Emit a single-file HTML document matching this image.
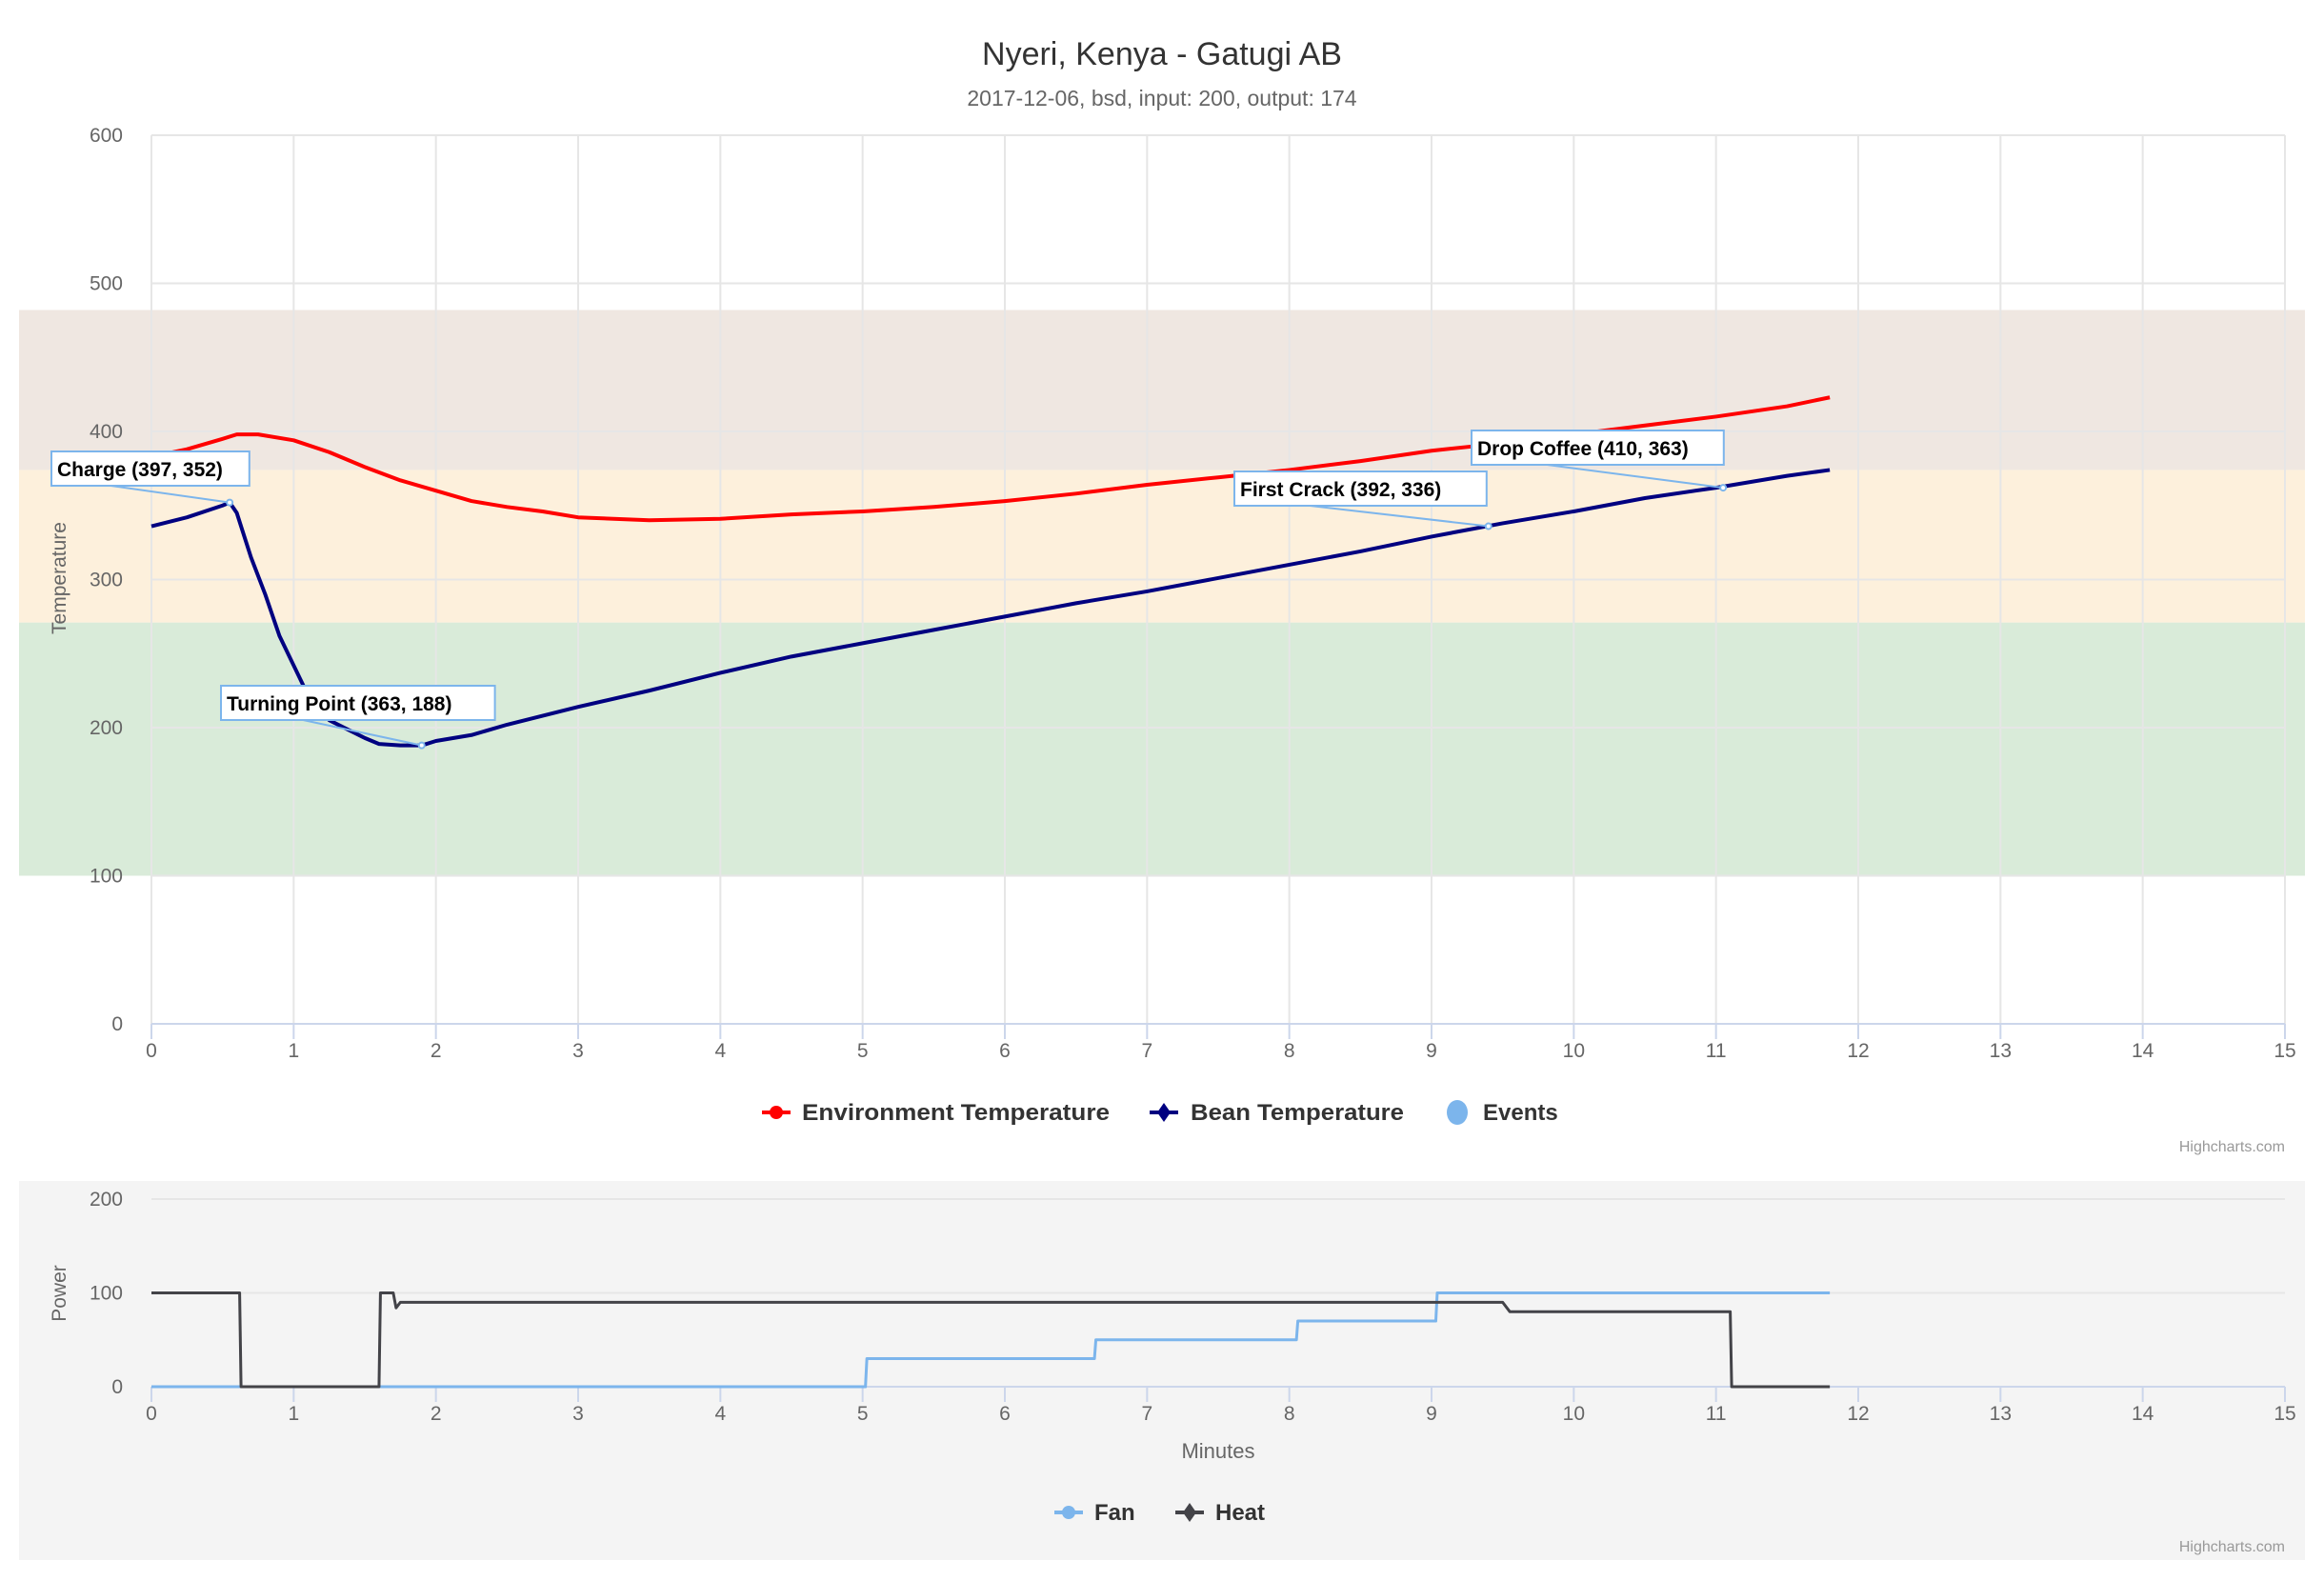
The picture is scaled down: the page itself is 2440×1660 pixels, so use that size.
<!DOCTYPE html>
<html><head><meta charset="utf-8"><style>
html,body{margin:0;padding:0;background:#fff;}
svg{display:block;font-family:"Liberation Sans",sans-serif;}
</style></head><body>
<svg id="c" width="2440" height="1660" viewBox="0 0 2440 1660" xmlns="http://www.w3.org/2000/svg">
<rect x="0" y="0" width="2440" height="1660" fill="#fff"/>
<text x="1220" y="68" text-anchor="middle" font-size="34" fill="#333">Nyeri, Kenya - Gatugi AB</text>
<text x="1220" y="111" text-anchor="middle" font-size="23" fill="#666">2017-12-06, bsd, input: 200, output: 174</text>
<rect x="20" y="1240" width="2400" height="398" fill="#f4f4f4"/>
<g id="topchart"></g>
<g id="botchart"></g>
<text transform="translate(69,607) rotate(-90)" text-anchor="middle" font-size="21" fill="#666">Temperature</text>
<text transform="translate(69,1358) rotate(-90)" text-anchor="middle" font-size="21" fill="#666">Power</text>
<text x="1279" y="1531" text-anchor="middle" font-size="22" fill="#666">Minutes</text>
<text x="2399" y="1209" text-anchor="end" font-size="16" fill="#999">Highcharts.com</text>
<text x="2399" y="1629" text-anchor="end" font-size="16" fill="#999">Highcharts.com</text>
<g>
 <g>
  <line x1="800" y1="1168" x2="830" y2="1168" stroke="#ff0000" stroke-width="4"/><circle cx="815" cy="1168" r="7" fill="#ff0000"/>
  <text x="842" y="1176" font-size="24" font-weight="bold" fill="#333" textLength="323" lengthAdjust="spacingAndGlyphs">Environment Temperature</text></g>
 <g>
  <line x1="1207" y1="1168" x2="1237" y2="1168" stroke="#000080" stroke-width="4"/><path d="M1222 1158 L1229 1168 L1222 1178 L1215 1168Z" fill="#000080"/>
  <text x="1250" y="1176" font-size="24" font-weight="bold" fill="#333" textLength="224" lengthAdjust="spacingAndGlyphs">Bean Temperature</text></g>
 <g>
  <ellipse cx="1530" cy="1168" rx="11" ry="13" fill="#7cb5ec"/>
  <text x="1557" y="1176" font-size="24" font-weight="bold" fill="#333">Events</text></g>
</g>
<g>
 <g>
  <line x1="1107" y1="1588" x2="1137" y2="1588" stroke="#7cb5ec" stroke-width="4"/><circle cx="1122" cy="1588" r="7" fill="#7cb5ec"/>
  <text x="1149" y="1596" font-size="24" font-weight="bold" fill="#333">Fan</text></g>
 <g>
  <line x1="1234" y1="1588" x2="1264" y2="1588" stroke="#434348" stroke-width="4"/><path d="M1249 1578 L1256 1588 L1249 1598 L1242 1588Z" fill="#434348"/>
  <text x="1276" y="1596" font-size="24" font-weight="bold" fill="#333">Heat</text></g>
</g>
</svg>
<script>
const xTicks=[0,1,2,3,4,5,6,7,8,9,10,11,12,13,14,15];
const tempTicks=[0,100,200,300,400,500,600];
const powerTicks=[0,100,200];
const bandFrom=[100,271,374];
const bandTo=[271,374,482];
const bandColors=['#d9ebd9','#fdf0dc','#efe7e1'];
const etTime=[0,0.25,0.5,0.6,0.75,1,1.25,1.5,1.75,2,2.25,2.5,2.75,3,3.5,4,4.5,5,5.5,6,6.5,7,7.5,8,8.5,9,9.5,10,10.5,11,11.5,11.8];
const etValues=[383,388,395,398,398,394,386,376,367,360,353,349,346,342,340,341,344,346,349,353,358,364,369,374,380,387,392,398,404,410,417,423];
const btTime=[0,0.25,0.5,0.55,0.6,0.7,0.8,0.9,1,1.1,1.25,1.5,1.6,1.75,1.9,2,2.25,2.5,2.75,3,3.5,4,4.5,5,5.5,6,6.5,7,7.5,8,8.5,9,9.5,10,10.5,11,11.5,11.8];
const btValues=[336,342,350,352,345,315,290,262,242,222,205,193,189,188,188,191,195,202,208,214,225,237,248,257,266,275,284,292,301,310,319,329,338,346,355,362,370,374];
const eventNames=['Charge (397, 352)','Turning Point (363, 188)','First Crack (392, 336)','Drop Coffee (410, 363)'];
const eventTime=[0.55,1.9,9.4,11.05];
const eventValues=[352,188,336,362];
const heatTime=[0,0.62,0.63,1.6,1.61,1.7,1.72,1.75,9.5,9.55,11.1,11.11,11.8];
const heatValues=[100,100,0,0,100,100,84,90,90,80,80,0,0];
const fanTime=[0,5.02,5.03,6.63,6.64,8.05,8.06,9.03,9.04,11.8];
const fanValues=[0,0,30,30,50,50,70,70,100,100];

const NS='http://www.w3.org/2000/svg';
const X0=159,X1=2399;
const x=t=>X0+(X1-X0)*t/15;
const yT=v=>1075-(1075-142)*v/600;
const yP=v=>1456-(1456-1259)*v/200;
function mk(tag,attrs,parent){const e=document.createElementNS(NS,tag);for(const k in attrs)e.setAttribute(k,attrs[k]);parent.appendChild(e);return e;}
const gTop=document.getElementById('topchart'),gBot=document.getElementById('botchart');

bandFrom.forEach((f,i)=>{
 const r=mk('rect',{x:20,y:yT(bandTo[i]),width:2400,height:yT(f)-yT(bandTo[i]),fill:bandColors[i]},gTop);
 
 
});
tempTicks.forEach(v=>{
 if(v>0){const l=mk('line',{x1:X0,x2:X1,y1:yT(v),y2:yT(v),stroke:'#e6e6e6','stroke-width':2},gTop);
 
 }
 const t=mk('text',{x:129,y:yT(v)+7,'text-anchor':'end','font-size':21,fill:'#666'},gTop);t.textContent=v;
 
 
});
function xAxis(g,yb,ytop){
 xTicks.forEach(v=>{
  const l=mk('line',{x1:x(v),x2:x(v),y1:ytop,y2:yb,stroke:'#e6e6e6','stroke-width':2},g);
  
  
  const tk=mk('line',{x1:x(v),x2:x(v),y1:yb,y2:yb+16,stroke:'#ccd6eb','stroke-width':2},g);
  
  
  const t=mk('text',{x:x(v),y:yb+35,'text-anchor':'middle','font-size':21,fill:'#666'},g);t.textContent=v;
  
  
 });
 const a=mk('line',{x1:X0,x2:X1,y1:yb,y2:yb,stroke:'#ccd6eb','stroke-width':2},g);
 
 
}
xAxis(gTop,1075,142);
function line(g,ts,vs,yf,color,w,name){
 const p=mk('polyline',{points:ts.map((t,i)=>x(t)+','+yf(vs[i])).join(' '),fill:'none',stroke:color,'stroke-width':w,'stroke-linejoin':'round'},g);
 
 
}
line(gTop,etTime,etValues,yT,'#ff0000',4,'environment-temperature-line');
line(gTop,btTime,btValues,yT,'#000080',4,'bean-temperature-line');
const labelPos=[[54,474],[232,720],[1296,495],[1545,452]];
eventNames.forEach((n,i)=>{
 const px=x(eventTime[i]),py=yT(eventValues[i]);
 const g=mk('g',{},gTop);
 
 
 const w=n.length*11.4+14,[lx,ly]=labelPos[i];
 mk('line',{x1:lx+w*0.3,y1:ly+36,x2:px,y2:py,stroke:'#7cb5ec','stroke-width':2},g);
 mk('circle',{cx:px,cy:py,r:3,fill:'#fff',stroke:'#7cb5ec','stroke-width':2},g);
 mk('rect',{x:lx,y:ly,width:w,height:36,fill:'#fff',stroke:'#7cb5ec','stroke-width':2},g);
 const t=mk('text',{x:lx+6,y:ly+26,'font-size':21,'font-weight':'bold',fill:'#000'},g);t.textContent=n;
});
powerTicks.forEach(v=>{
 if(v>0){const l=mk('line',{x1:X0,x2:X1,y1:yP(v),y2:yP(v),stroke:'#e6e6e6','stroke-width':2},gBot);
 
 }
 const t=mk('text',{x:129,y:yP(v)+7,'text-anchor':'end','font-size':21,fill:'#666'},gBot);t.textContent=v;
 
 
});
xAxis(gBot,1456,1456);
line(gBot,fanTime,fanValues,yP,'#7cb5ec',3,'fan-line');
line(gBot,heatTime,heatValues,yP,'#434348',3,'heat-line');
</script>
</body></html>
